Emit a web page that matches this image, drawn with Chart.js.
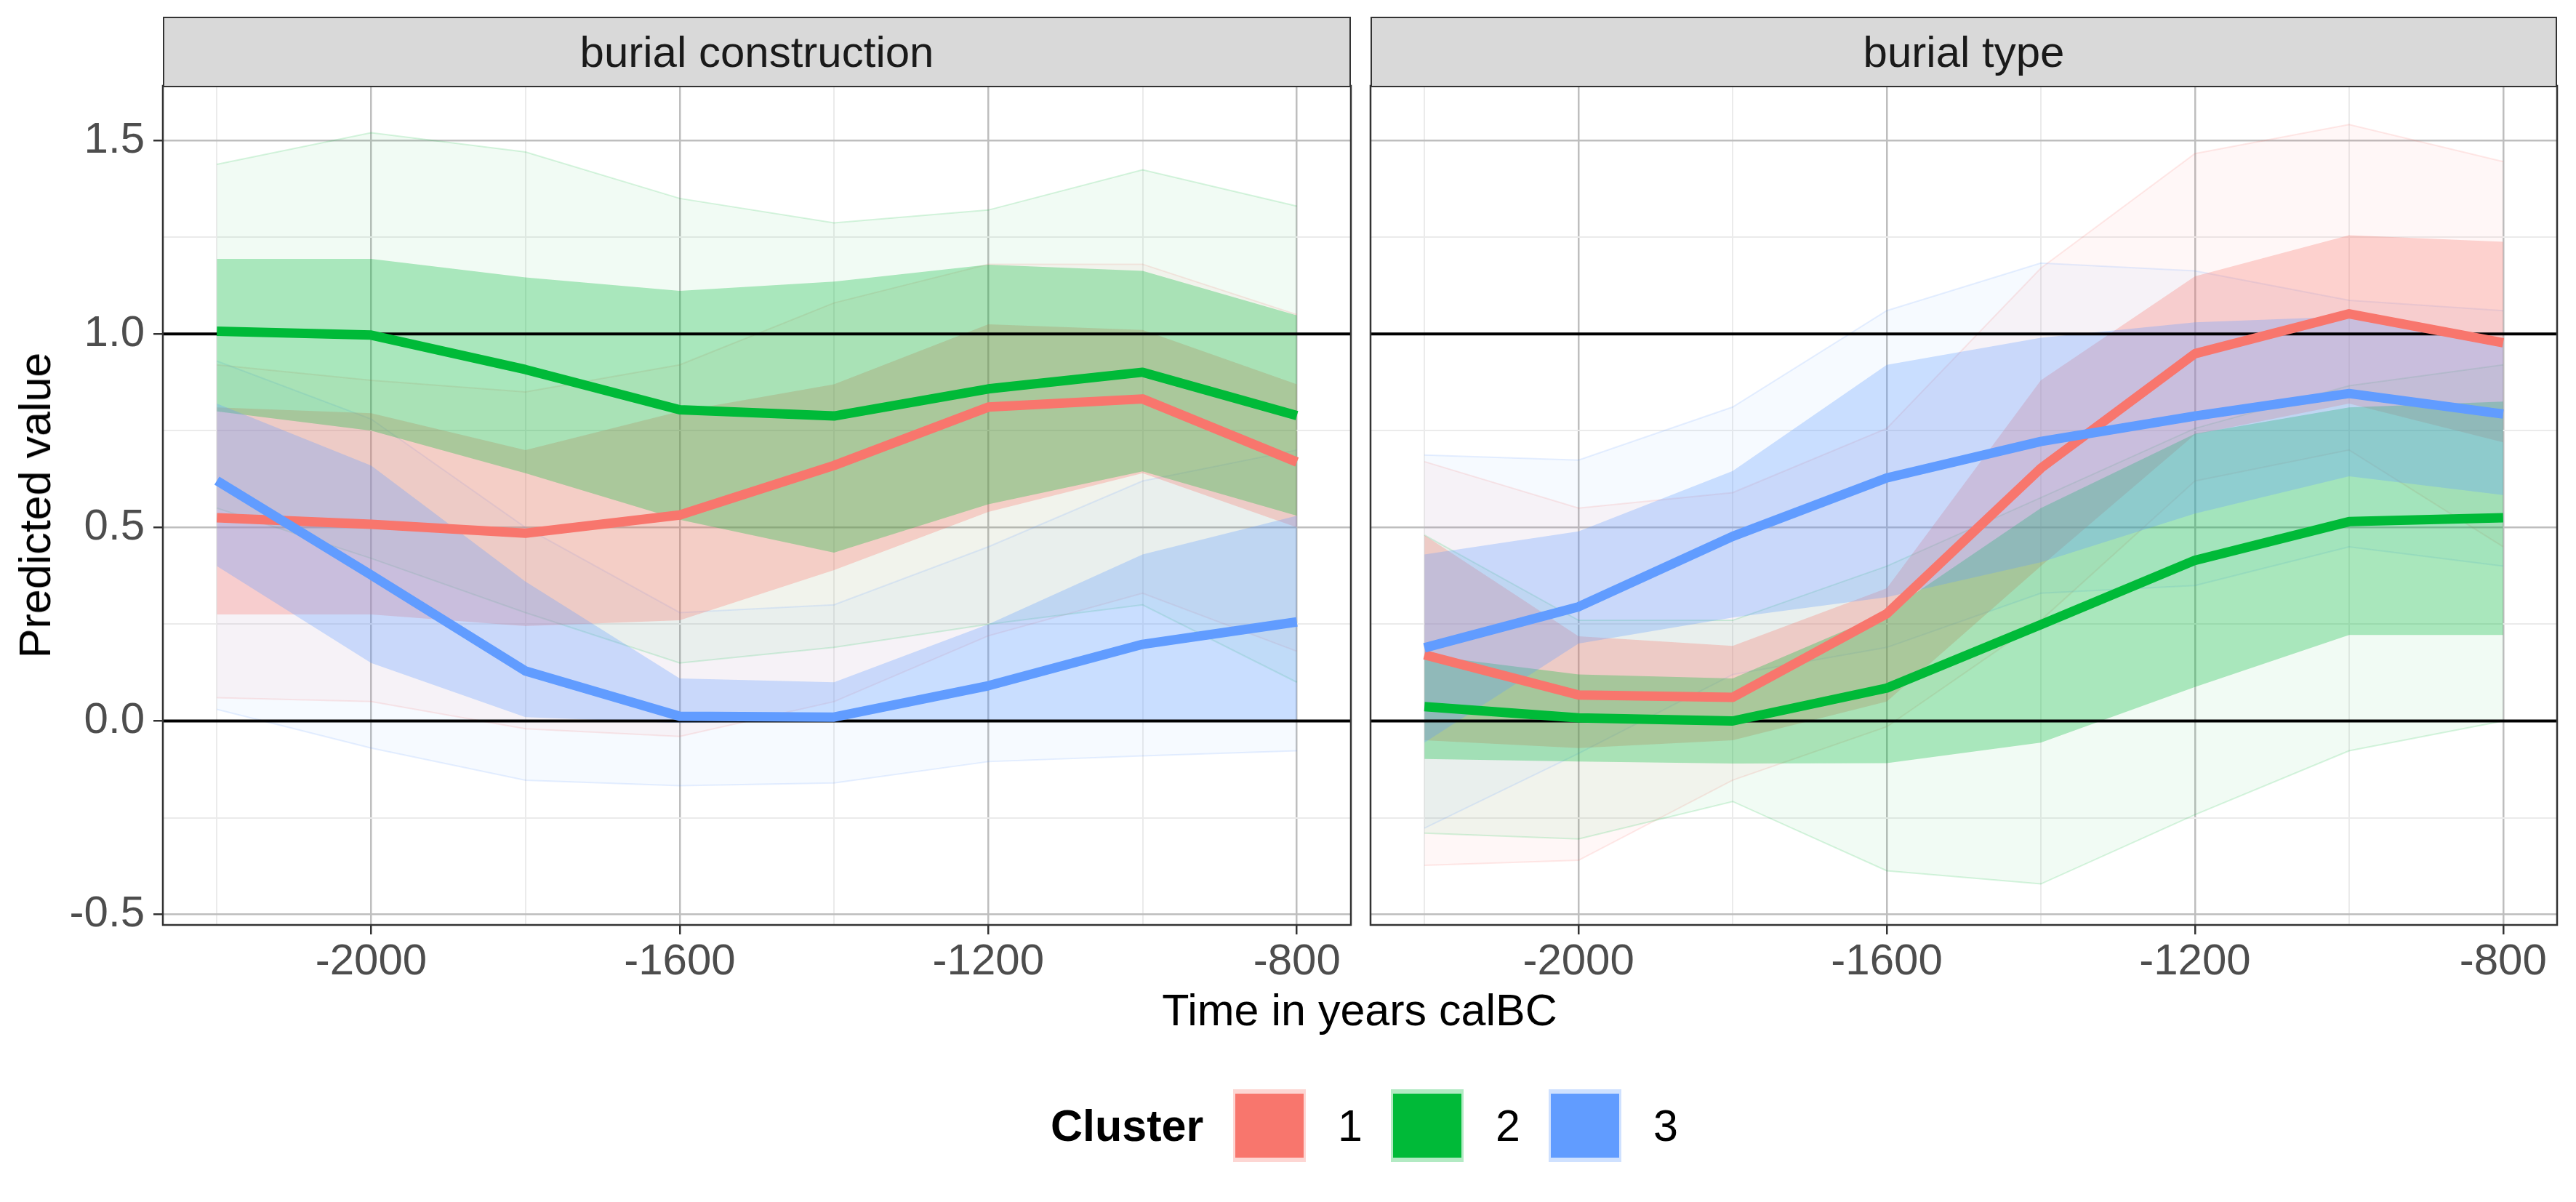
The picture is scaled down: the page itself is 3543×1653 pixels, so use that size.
<!DOCTYPE html>
<html>
<head>
<meta charset="utf-8">
<script src="https://cdn.jsdelivr.net/npm/chart.js@4.4.0/dist/chart.umd.min.js"></script>
<style>
  body { margin: 0; background: #fff; }
  #page { position: relative; width: 3543px; height: 1653px; overflow: hidden; font-family: "Liberation Sans", Arial, sans-serif; }
  canvas { position: absolute; top: 0; }
  .strip { position: absolute; top: 23px; height: 97px; box-sizing: border-box; background: #d9d9d9; border: 2.5px solid #333;
           display: flex; align-items: center; justify-content: center; font-size: 60px; color: #1a1a1a; }
  .title { position: absolute; font-size: 61px; color: #000; white-space: nowrap; }
  .key { position: absolute; top: 1498px; width: 100px; height: 100px; }
  .key div { position: absolute; left: 3px; right: 3px; top: 6px; bottom: 6px; }
  .lab { position: absolute; top: 1512px; font-size: 61px; color: #000; line-height: 72px; }
</style>
</head>
<body>
<div id="page">
  <canvas id="c1" width="1872" height="1400" style="left:0"></canvas>
  <canvas id="c2" width="1673" height="1400" style="left:1870px"></canvas>
  <div class="strip" style="left:224px;width:1634px">burial construction</div>
  <div class="strip" style="left:1885px;width:1632px">burial type</div>
  <div class="title" style="left:1870px;top:1354px;transform:translateX(-50%)">Time in years calBC</div>
  <div class="title" style="left:48px;top:695px;transform:translate(-50%,-50%) rotate(-90deg)">Predicted value</div>
  <div id="legend"></div>
</div>
<script>
// x positions (years calBC) and axis breaks
const years = [-2200, -2000, -1800, -1600, -1400, -1200, -1000, -800];
const xMajor = [-2000, -1600, -1200, -800];
const xMinor = [-2200, -1800, -1400, -1000];
const yMajor = [-0.5, 0, 0.5, 1, 1.5];
const yMinor = [-0.25, 0.25, 0.75, 1.25];
const refLines = [0, 1];
const clusters = ['1', '2', '3'];
const facets = ['burial construction', 'burial type'];

// burial construction, one row per cluster
const consMean = [
  [0.525, 0.508, 0.485, 0.532, 0.660, 0.811, 0.832, 0.669],
  [1.007, 0.997, 0.908, 0.804, 0.788, 0.858, 0.901, 0.789],
  [0.621, 0.377, 0.129, 0.012, 0.010, 0.091, 0.198, 0.256]
];
const consLower = [
  [0.275, 0.275, 0.245, 0.260, 0.390, 0.540, 0.640, 0.500],
  [0.800, 0.750, 0.640, 0.520, 0.435, 0.560, 0.645, 0.530],
  [0.400, 0.150, 0.010, -0.005, 0.000, 0.000, 0.000, 0.000]
];
const consUpper = [
  [0.810, 0.795, 0.700, 0.800, 0.870, 1.025, 1.010, 0.870],
  [1.194, 1.194, 1.146, 1.111, 1.135, 1.179, 1.163, 1.048],
  [0.820, 0.660, 0.360, 0.110, 0.100, 0.250, 0.430, 0.530]
];
const consDrawMin = [
  [0.060, 0.050, -0.020, -0.040, 0.050, 0.220, 0.330, 0.180],
  [0.550, 0.420, 0.280, 0.150, 0.190, 0.250, 0.300, 0.100],
  [0.030, -0.070, -0.153, -0.167, -0.160, -0.105, -0.090, -0.077]
];
const consDrawMax = [
  [0.920, 0.880, 0.850, 0.920, 1.080, 1.180, 1.180, 1.050],
  [1.438, 1.520, 1.470, 1.350, 1.287, 1.320, 1.424, 1.330],
  [0.930, 0.780, 0.500, 0.280, 0.300, 0.450, 0.620, 0.700]
];

// burial type, one row per cluster
const typeMean = [
  [0.171, 0.067, 0.061, 0.277, 0.653, 0.949, 1.052, 0.977],
  [0.037, 0.008, 0.000, 0.085, 0.249, 0.415, 0.515, 0.525],
  [0.189, 0.295, 0.477, 0.628, 0.722, 0.788, 0.846, 0.793]
];
const typeLower = [
  [-0.050, -0.070, -0.050, 0.050, 0.400, 0.740, 0.820, 0.720],
  [-0.098, -0.105, -0.110, -0.109, -0.056, 0.088, 0.222, 0.222],
  [-0.056, 0.200, 0.267, 0.320, 0.410, 0.536, 0.632, 0.584]
];
const typeUpper = [
  [0.480, 0.219, 0.194, 0.343, 0.880, 1.149, 1.255, 1.238],
  [0.170, 0.120, 0.110, 0.280, 0.550, 0.742, 0.810, 0.825],
  [0.430, 0.490, 0.646, 0.920, 0.990, 1.030, 1.045, 0.977]
];
const typeDrawMin = [
  [-0.373, -0.360, -0.153, -0.015, 0.260, 0.620, 0.700, 0.450],
  [-0.290, -0.305, -0.208, -0.387, -0.421, -0.242, -0.077, 0.000],
  [-0.277, -0.084, 0.120, 0.190, 0.330, 0.350, 0.450, 0.400]
];
const typeDrawMax = [
  [0.670, 0.550, 0.590, 0.756, 1.170, 1.466, 1.541, 1.445],
  [0.480, 0.260, 0.260, 0.400, 0.577, 0.756, 0.866, 0.920],
  [0.687, 0.674, 0.811, 1.060, 1.183, 1.163, 1.087, 1.060]
];

const X_MIN = -2270, X_MAX = -730, Y_MIN = -0.527, Y_MAX = 1.641;
const rgb = ['248,118,109', '0,186,56', '97,156,255'];
const solid = ['#F8766D', '#00BA38', '#619CFF'];

Chart.defaults.font.family = '"Liberation Sans", Arial, sans-serif';

const pts = arr => arr.map((v, i) => ({ x: years[i], y: v }));

function buildDatasets(mean, lower, upper, dmin, dmax) {
  const ds = [];
  // spread of the individual draws
  clusters.forEach((c, k) => {
    ds.push({ data: pts(dmax[k]), borderColor: `rgba(${rgb[k]},0.16)`, borderWidth: 2,
              backgroundColor: `rgba(${rgb[k]},0.055)`, fill: '+1', order: 30 + 2 - k });
    ds.push({ data: pts(dmin[k]), borderColor: `rgba(${rgb[k]},0.16)`, borderWidth: 2,
              fill: false, order: 30 + 2 - k });
  });
  // interval ribbons
  clusters.forEach((c, k) => {
    ds.push({ data: pts(upper[k]), borderWidth: 0, borderColor: 'rgba(0,0,0,0)',
              backgroundColor: `rgba(${rgb[k]},0.3)`, fill: '+1', order: 20 + 2 - k });
    ds.push({ data: pts(lower[k]), borderWidth: 0, borderColor: 'rgba(0,0,0,0)', fill: false, order: 20 + 2 - k });
  });
  refLines.forEach(v => {
    ds.push({ data: [{ x: X_MIN, y: v }, { x: X_MAX, y: v }], borderColor: '#000', borderWidth: 4, fill: false, order: 10 });
  });
  clusters.forEach((c, k) => {
    ds.push({ label: c, data: pts(mean[k]), borderColor: solid[k], borderWidth: 13, fill: false,
              borderJoinStyle: 'round', borderCapStyle: 'butt', order: 2 - k });
  });
  return ds;
}

const panelBorder = {
  id: 'panelBorder',
  afterDraw(chart) {
    const a = chart.chartArea, ctx = chart.ctx;
    ctx.save();
    ctx.strokeStyle = '#333';
    ctx.lineWidth = 2.5;
    ctx.strokeRect(a.left, a.top, a.right - a.left, a.bottom - a.top);
    ctx.restore();
  }
};

function makeChart(id, datasets, showY, padding) {
  return new Chart(document.getElementById(id), {
    type: 'line',
    data: { datasets },
    plugins: [panelBorder],
    options: {
      responsive: false,
      animation: false,
      devicePixelRatio: 1,
      layout: { padding },
      elements: { point: { radius: 0 }, line: { tension: 0 } },
      plugins: { legend: { display: false }, tooltip: { enabled: false } },
      scales: {
        x: {
          type: 'linear', min: X_MIN, max: X_MAX,
          afterBuildTicks: s => { s.ticks = [...xMinor, ...xMajor].sort((a, b) => a - b).map(v => ({ value: v })); },
          afterFit: s => { s.height = 128; },
          border: { display: false },
          grid: {
            color: c => xMajor.includes(c.tick && c.tick.value) ? '#bebebe' : '#ebebeb',
            lineWidth: c => xMajor.includes(c.tick && c.tick.value) ? 2.5 : 2,
            tickColor: c => xMajor.includes(c.tick && c.tick.value) ? '#333' : 'rgba(0,0,0,0)',
            tickLength: 13, tickWidth: 2.5
          },
          ticks: { autoSkip: false, maxRotation: 0, padding: 2, color: '#4d4d4d', font: { size: 60 },
                   callback: v => xMajor.includes(v) ? String(v) : '' }
        },
        y: {
          type: 'linear', min: Y_MIN, max: Y_MAX,
          afterBuildTicks: s => { s.ticks = [...yMinor, ...yMajor].sort((a, b) => a - b).map(v => ({ value: v })); },
          afterFit: s => { s.width = showY ? 224 : 0; },
          border: { display: false },
          grid: {
            color: c => yMajor.includes(c.tick && c.tick.value) ? '#bebebe' : '#ebebeb',
            lineWidth: c => yMajor.includes(c.tick && c.tick.value) ? 2.5 : 2,
            tickColor: c => yMajor.includes(c.tick && c.tick.value) ? '#333' : 'rgba(0,0,0,0)',
            drawTicks: showY, tickLength: 13, tickWidth: 2.5
          },
          ticks: { display: showY, autoSkip: false, padding: 12, color: '#4d4d4d', font: { size: 60 },
                   callback: v => yMajor.includes(v) ? v.toFixed(1) : '' }
        }
      }
    }
  });
}

makeChart('c1', buildDatasets(consMean, consLower, consUpper, consDrawMin, consDrawMax), true,
          { top: 118, right: 14, left: 0, bottom: 0 });
makeChart('c2', buildDatasets(typeMean, typeLower, typeUpper, typeDrawMin, typeDrawMax), false,
          { top: 118, right: 26, left: 15, bottom: 0 });

// legend
const leg = document.getElementById('legend');
const legX = [1696, 1913, 2130];
let html = '<div class="lab" style="left:1445px;font-weight:bold">Cluster</div>';
clusters.forEach((c, k) => {
  html += `<div class="key" style="left:${legX[k]}px;background:rgba(${rgb[k]},0.3)"><div style="background:${solid[k]}"></div></div>`;
  html += `<div class="lab" style="left:${legX[k] + 144}px">${c}</div>`;
});
leg.innerHTML = html;
</script>
</body>
</html>
